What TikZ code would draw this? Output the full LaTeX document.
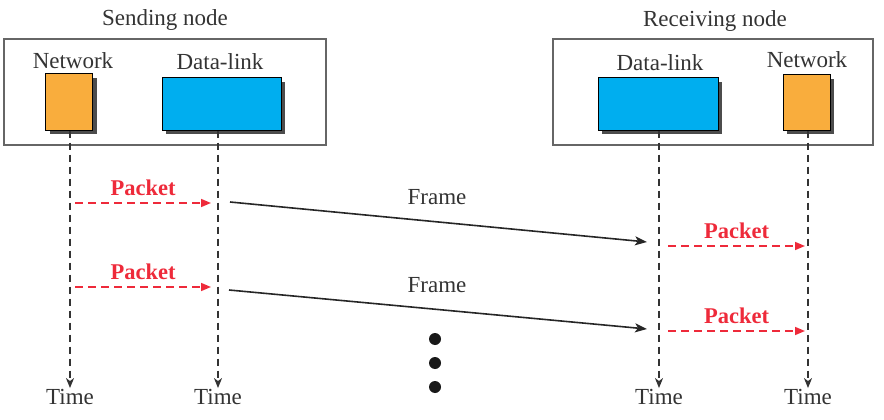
\documentclass[tikz,border=0pt]{standalone}
\usepackage{fontspec}
\setmainfont{Liberation Serif}
\usetikzlibrary{arrows.meta,shadows}

\definecolor{layerorange}{HTML}{F9AD3D}
\definecolor{layerblue}{HTML}{00AEEF}
\definecolor{pktred}{HTML}{EE2A3A}

\tikzset{
  nodebox/.style={draw=black!60, line width=1.2pt},
  layer/.style={draw=black, line width=1pt, inner sep=0pt,
    drop shadow={shadow xshift=4pt, shadow yshift=-4pt, fill=black!70, opacity=1}},
  lifeline/.style={dashed, dash pattern=on 7pt off 5pt, line width=1.6pt, draw=black!80, -{Stealth[length=10pt, width=8pt, inset=3pt]}},
  pkt/.style={dashed, dash pattern=on 8pt off 5pt, line width=1.6pt, draw=pktred, -{Stealth[length=10pt, width=8pt, inset=0pt]}},
  frm/.style={line width=1.6pt, draw=black!85, -{Stealth[length=12pt, width=9pt, inset=3pt]}},
  lbl/.style={font=\fontsize{23}{23}\selectfont, text=black!80, inner sep=1pt},
  pktlbl/.style={font=\fontsize{22.5}{22.5}\selectfont\bfseries, text=pktred, inner sep=1pt}
}

\begin{document}
\begin{tikzpicture}[x=1pt, y=-1pt]
            \useasboundingbox (0,0) rectangle (884,420);

            % sending node
            \draw[nodebox] (4, 39) rectangle (326, 145);
            \node[lbl] (sendtitle) at (165, 20) {Sending node};
            \node[lbl] (snetlbl) at (73, 61) {Network};
            \node[lbl] (sdlllbl) at (220, 62) {Data-link};
            \node[layer, fill=layerorange, minimum width=47pt, minimum height=56pt] (snet) at (69, 102) {};
            \node[layer, fill=layerblue, minimum width=119pt, minimum height=52pt] (sdll) at (221.5, 104) {};

            % receiving node
            \draw[nodebox] (553, 39) rectangle (873, 145);
            \node[lbl] (recvtitle) at (715, 21) {Receiving node};
            \node[lbl] (rdlllbl) at (660, 63) {Data-link};
            \node[lbl] (rnetlbl) at (807, 60) {Network};
            \node[layer, fill=layerblue, minimum width=120pt, minimum height=52pt] (rdll) at (658, 104) {};
            \node[layer, fill=layerorange, minimum width=47pt, minimum height=55pt] (rnet) at (806.5, 102.5) {};

            % time lines
            \node[lbl] (t1) at (70, 397) {Time};
            \node[lbl] (t2) at (218, 397) {Time};
            \node[lbl] (t3) at (659, 397) {Time};
            \node[lbl] (t4) at (808, 397) {Time};
            \draw[lifeline] (snet.south -| t1) -- (t1.north);
            \draw[lifeline] (sdll.south -| t2) -- (t2.north);
            \draw[lifeline] (rdll.south -| t3) -- (t3.north);
            \draw[lifeline] (rnet.south -| t4) -- (t4.north);

            % first packet / frame
            \coordinate (p1a) at (75, 203);
            \coordinate (p1b) at (211, 203);
            \draw[pkt] (p1a) -- node[pktlbl, above=5pt] {Packet} (p1b);
            \coordinate (f1a) at (230, 202);
            \coordinate (f1b) at (647, 242);
            \draw[frm] (f1a) -- (f1b);
            \node[lbl] (f1lbl) at (437, 197) {Frame};
            \coordinate (q1a) at (668, 246);
            \coordinate (q1b) at (805, 246);
            \draw[pkt] (q1a) -- node[pktlbl, above=5pt] {Packet} (q1b);

            % second packet / frame
            \coordinate (p2a) at (75, 287);
            \coordinate (p2b) at (211, 287);
            \draw[pkt] (p2a) -- node[pktlbl, above=5pt] {Packet} (p2b);
            \coordinate (f2a) at (229, 290);
            \coordinate (f2b) at (647, 329);
            \draw[frm] (f2a) -- (f2b);
            \node[lbl] (f2lbl) at (437, 285) {Frame};
            \coordinate (q2a) at (668, 331);
            \coordinate (q2b) at (805, 331);
            \draw[pkt] (q2a) -- node[pktlbl, above=5pt] {Packet} (q2b);

            % more frames
            \foreach \y in {339, 363, 387}
                \fill[black!90] (435, \y) circle (6pt);
        \end{tikzpicture}
\end{document}
